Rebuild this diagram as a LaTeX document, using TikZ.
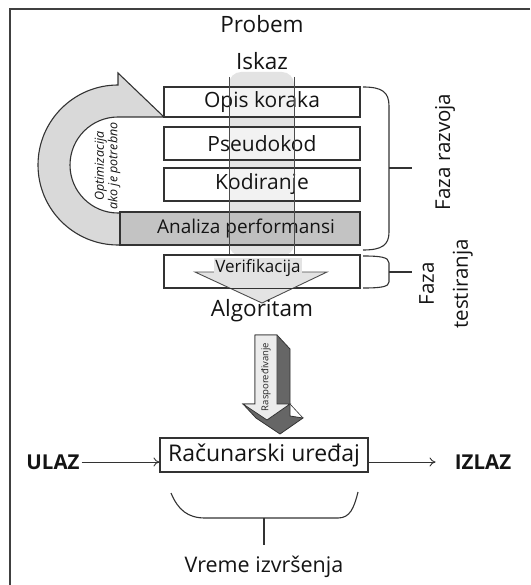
\documentclass[tikz,border=0pt]{standalone}
\usepackage{fontspec}
\setmainfont{Open Sans}
\usetikzlibrary{arrows.meta}
\begin{document}
\begin{tikzpicture}[x=1pt,y=-1pt,
  line/.style={draw=black!80, line width=1.1pt},
  box/.style={line, fill=white, fill opacity=0.55, text opacity=1, text=black!92,
    minimum width=196pt, minimum height=33pt, inner sep=0pt,
    font=\fontsize{21}{23}\selectfont},
  lbl/.style={text=black!92, inner sep=0pt, font=\fontsize{22.5}{24}\selectfont},
  brace/.style={draw=black!80, line width=1.1pt},
  flow/.style={draw=black!80, line width=0.9pt, -{To[length=6pt,width=9pt]}},
]
\useasboundingbox (0,0) rectangle (530,585);
% frame
\draw[line width=1.4pt, black!75] (530,9) -- (10,9) -- (10,585);

% central band
\fill[gray!22, rounded corners=12pt] (229,72) rectangle (294,256);

% labels at top
\node[lbl] (probem) at (262,24) {Probem};
\node[lbl] (iskaz) at (262,61) {Iskaz};

% loop arrow
\draw[line, fill=gray!30] (120,245) -- (118,245)
  arc[start angle=90, end angle=270, radius=80] -- (118,73) -- (164,117) -- (118,117)
  arc[start angle=270, end angle=90, radius=48] -- (120,213) -- cycle;
\node[inner sep=0pt, rotate=90, align=center, text=black!92,
  font=\fontsize{12.5}{11.5}\selectfont\itshape] (opt) at (107.5,166)
  {Optimizacija\\ako je potrebno};

% boxes
\node[box, minimum height=30pt] (opis) at (262,102) {Opis koraka};
\node[box] (pseudo) at (262,143.5) {Pseudokod};
\node[box] (kod) at (262,184.5) {Kodiranje};
\node[box, fill=gray!55, fill opacity=0.85, minimum width=240pt,
  font=\fontsize{19}{21}\selectfont] (anal) at (240,228.5)
  {\hspace*{12pt}Analiza performansi};
\node[box] (verif) at (262,271.5) {};

% vertical guide lines
\draw[black!70, line width=0.9pt] (229,77) -- (229,255);
\draw[black!70, line width=0.9pt] (294,77) -- (294,255);

% verification triangle
\draw[draw=black!70, line width=0.9pt, fill=gray!22] (195,272) -- (327,272) -- (262,303) -- cycle;
\draw[line] (verif.south west) rectangle (verif.north east);
\node[inner sep=1.5pt, fill=gray!22, text=black!92, font=\fontsize{17}{19}\selectfont] (veriftxt) at (258,268) {Verifikacija};
\node[lbl] (alg) at (262,311) {Algoritam};

% braces on the right
\draw[brace] (363,87) .. controls (382,87) and (389,92) .. (389,106) -- (389,232)
  .. controls (389,245) and (382,250) .. (363,250);
\draw[brace] (389,168) -- (412,168);
\draw[brace] (363,256) .. controls (380,256) and (389,257) .. (389,263) -- (389,282)
  .. controls (389,287) and (380,288) .. (363,288);
\draw[brace] (389,272) -- (412,272);
\node[lbl, rotate=90, font=\fontsize{20.5}{23}\selectfont] (razvoj) at (445,152) {Faza razvoja};
\node[lbl, rotate=90, align=center, font=\fontsize{20.5}{34}\selectfont] (test) at (446,284) {Faza\\testiranja};

% 3D arrow
\draw[draw=black!80, line width=0.8pt, fill=black!60]
  (255,335) -- (277,335) -- (290,349) -- (290,416) -- (303,418) -- (280,434)
  -- (256,418) -- (243,404) -- (255,404) -- cycle;
\draw[draw=black!80, line width=0.6pt] (290,404) -- (303,418);
\draw[draw=black!80, line width=0.8pt, fill=gray!15]
  (255,335) -- (277,335) -- (277,404) -- (290,404) -- (267,420) -- (243,404) -- (255,404) -- cycle;
\node[inner sep=0pt, rotate=90, text=black!85, font=\fontsize{9.5}{10}\selectfont] (rasp) at (266,377) {Raspoređivanje};

% bottom row
\node[lbl, font=\fontsize{20.5}{22}\selectfont\bfseries] (ulaz) at (53,462) {ULAZ};
\node[box, fill opacity=1, minimum width=208pt, minimum height=34pt,
  font=\fontsize{23}{25}\selectfont] (dev) at (264,455) {Računarski uređaj};
\node[lbl, font=\fontsize{20.5}{22}\selectfont\bfseries] (izlaz) at (483,462) {IZLAZ};
\draw[flow] (ulaz.east) ++(2pt,0) -- (dev.west |- ulaz.east);
\draw[flow] (dev.east |- izlaz.west) -- ++(67pt,0) coordinate (izlazin);

% bottom brace
\draw[brace] (171,493) .. controls (178,510) and (188,518) .. (205,518) -- (338,518)
  .. controls (350,518) and (354,508) .. (358,492);
\draw[brace] (264,518) -- (264,545);
\node[lbl, font=\fontsize{21.5}{23}\selectfont] (vreme) at (264,567) {Vreme izvršenja};
\end{tikzpicture}
\end{document}
